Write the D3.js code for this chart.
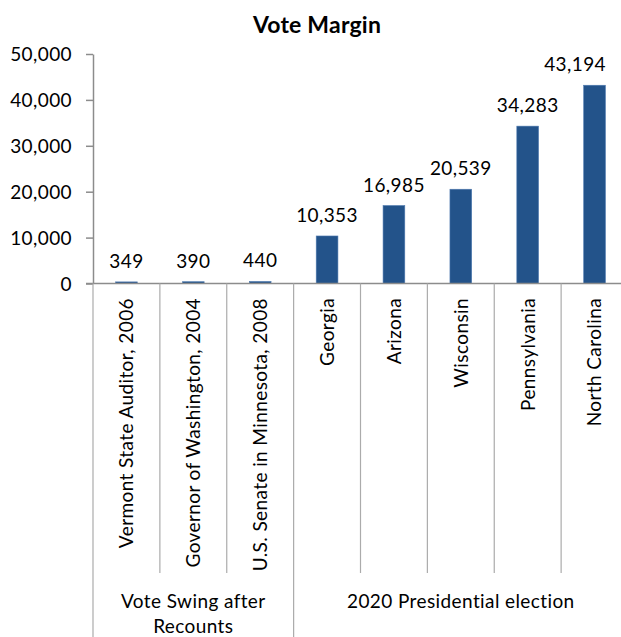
<!DOCTYPE html>
<html>
<head>
<meta charset="utf-8">
<script src="https://cdn.jsdelivr.net/npm/d3@7"></script>
<style>
  body { margin: 0; background: #fff; }
  svg text { font-family: Lato, "Open Sans", sans-serif; fill: #000; letter-spacing: 0.4px; }
</style>
</head>
<body>
<svg class="voteMargin"></svg>
<script>
const categories = [
  "Vermont State Auditor, 2006",
  "Governor of Washington, 2004",
  "U.S. Senate in Minnesota, 2008",
  "Georgia",
  "Arizona",
  "Wisconsin",
  "Pennsylvania",
  "North Carolina"
]
const margins = [349, 390, 440, 10353, 16985, 20539, 34283, 43194]
const groupNames = [["Vote Swing after", "Recounts"], ["2020 Presidential election"]]
const groupSizes = [3, 5]
const yTicks = [0, 10000, 20000, 30000, 40000, 50000]

const width = 621
const height = 637
const plotLeft = 93
const plotRight = 628
const plotTop = 54
const zeroY = 283.5
const fontSize = '19px'

const svg = d3.select('svg.voteMargin').attr('width', width).attr('height', height)

const xScale = d3.scaleBand()
  .domain(categories)
  .range([plotLeft, plotRight])
  .padding(0)

const yScale = d3.scaleLinear()
  .domain([0, 50000])
  .range([zeroY, plotTop])

// title
svg.append('text')
  .attr('x', 317)
  .attr('y', 33)
  .attr('text-anchor', 'middle')
  .style('font-size', '23px')
  .style('font-weight', 'bold')
  .style('letter-spacing', '0.2px')
  .text('Vote Margin')

// y axis
const yAxis = svg.append('g')
  .attr('transform', `translate(${plotLeft}, 0)`)
  .call(d3.axisLeft(yScale).tickValues(yTicks).tickFormat(d3.format(',')).tickSize(7).tickPadding(14).tickSizeOuter(0))
yAxis.select('.domain').attr('stroke', '#8c8c8c').attr('stroke-width', 1.5)
yAxis.selectAll('.tick line').attr('stroke', '#8c8c8c').attr('stroke-width', 1.5)
yAxis.selectAll('.tick text').style('font-size', fontSize).attr('dy', '0.36em')
yAxis.attr('font-family', null).attr('font-size', null)

// bars
const data = categories.map((c, i) => ({ cat: c, value: margins[i] }))
const barW = xScale.bandwidth() * 0.325

svg.selectAll('rect.bar')
  .data(data)
  .enter()
  .append('rect')
  .attr('class', 'bar')
  .attr('x', d => xScale(d.cat) + (xScale.bandwidth() - barW) / 2)
  .attr('y', d => yScale(d.value))
  .attr('width', barW)
  .attr('height', d => zeroY - yScale(d.value))
  .style('fill', '#23538a')
  .style('stroke', '#4f7bb0')
  .style('stroke-width', 0.6)

// value labels
svg.selectAll('text.val')
  .data(data)
  .enter()
  .append('text')
  .attr('class', 'val')
  .attr('x', d => xScale(d.cat) + xScale.bandwidth() / 2)
  .attr('y', d => yScale(d.value) - 14)
  .attr('text-anchor', 'middle')
  .style('font-size', fontSize)
  .text(d => d3.format(',')(d.value))
  .each(function () {
    // keep labels inside the visible area
    const w = this.getComputedTextLength()
    const x = +d3.select(this).attr('x')
    if (x + w / 2 > width - 15) d3.select(this).attr('x', width - 15 - w / 2)
  })

// x axis baseline
svg.append('line')
  .attr('x1', plotLeft - 7).attr('x2', plotRight)
  .attr('y1', zeroY).attr('y2', zeroY)
  .attr('stroke', '#8c8c8c').attr('stroke-width', 1.5)

// category dividers
const groupStarts = [0]
groupSizes.forEach((s, i) => groupStarts.push(groupStarts[i] + s))
categories.forEach((c, i) => {
  const isGroupEdge = groupStarts.includes(i)
  svg.append('line')
    .attr('x1', xScale(c)).attr('x2', xScale(c))
    .attr('y1', zeroY).attr('y2', isGroupEdge ? height : 573)
    .attr('stroke', '#ababab').attr('stroke-width', 1.2)
})
svg.append('line')
  .attr('x1', plotRight).attr('x2', plotRight)
  .attr('y1', zeroY).attr('y2', height)
  .attr('stroke', '#ababab').attr('stroke-width', 1.2)

// rotated category labels
svg.selectAll('text.cat')
  .data(categories)
  .enter()
  .append('text')
  .attr('class', 'cat')
  .attr('transform', d => `translate(${xScale(d) + xScale.bandwidth() / 2}, 298) rotate(-90)`)
  .attr('text-anchor', 'end')
  .attr('dy', '0.36em')
  .style('font-size', fontSize)
  .text(d => d)

// group labels
groupNames.forEach((lines, g) => {
  const first = categories[groupStarts[g]]
  const last = categories[groupStarts[g] + groupSizes[g] - 1]
  const cx = (xScale(first) + xScale(last) + xScale.bandwidth()) / 2
  const t = svg.append('text')
    .attr('text-anchor', 'middle')
    .style('font-size', fontSize)
  lines.forEach((ln, k) => {
    t.append('tspan').attr('x', cx).attr('y', 608 + k * 25).text(ln)
  })
})
</script>
</body>
</html>
